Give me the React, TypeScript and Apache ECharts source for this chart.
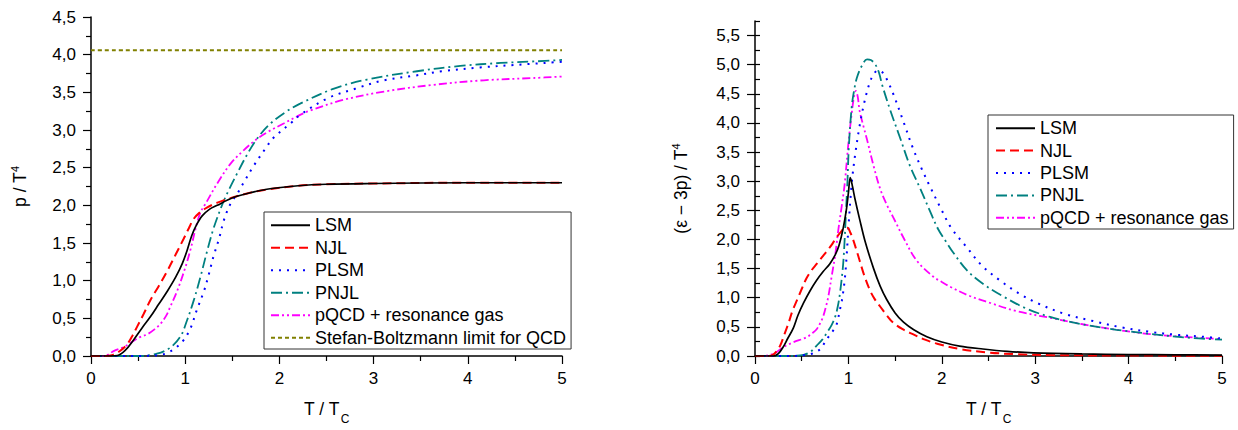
import React, { useEffect, useRef } from 'react';
import * as echarts from 'echarts';

const FONT = '"Liberation Sans", Arial, Helvetica, sans-serif';

// Series names (shared by both panels)
const names = ['LSM', 'NJL', 'PLSM', 'PNJL', 'pQCD + resonance gas', 'Stefan-Boltzmann limit for QCD'];

// Left panel: pressure p / T^4 against T / Tc, as [T/Tc, value]
const pressureLSM = [
  [0, 0], [0.2, 0], [0.28, 0.005], [0.36, 0.07], [0.45, 0.21], [0.54, 0.37], [0.63, 0.52], [0.72, 0.69],
  [0.81, 0.86], [0.9, 1.05], [0.97, 1.23], [1.02, 1.4], [1.07, 1.6], [1.12, 1.74], [1.18, 1.86], [1.26, 1.95],
  [1.34, 2.0], [1.45, 2.07], [1.55, 2.12], [1.7, 2.17], [1.9, 2.22], [2.2, 2.26], [2.5, 2.28], [3, 2.29],
  [4, 2.3], [5, 2.3],
];
const pressureNJL = [
  [0, 0], [0.15, 0], [0.22, 0.01], [0.3, 0.06], [0.38, 0.15], [0.44, 0.27], [0.49, 0.39], [0.56, 0.56],
  [0.63, 0.74], [0.72, 0.93], [0.81, 1.13], [0.9, 1.35], [0.985, 1.56], [1.04, 1.7], [1.09, 1.82],
  [1.15, 1.9], [1.23, 1.97], [1.35, 2.04], [1.52, 2.11], [1.7, 2.17], [1.87, 2.21], [2.2, 2.26],
  [2.5, 2.28], [3, 2.29], [4, 2.3], [5, 2.3],
];
const pressurePLSM = [
  [0, 0], [0.5, 0], [0.7, 0.01], [0.81, 0.04], [0.9, 0.11], [0.985, 0.215], [1.06, 0.38], [1.12, 0.6],
  [1.2, 0.865], [1.25, 1.08], [1.3, 1.32], [1.36, 1.56], [1.41, 1.8], [1.48, 2.02], [1.55, 2.15],
  [1.62, 2.3], [1.73, 2.53], [1.85, 2.75], [1.94, 2.9], [2.12, 3.09], [2.22, 3.2], [2.51, 3.42],
  [2.81, 3.55], [3.11, 3.66], [3.43, 3.72], [3.73, 3.78], [4.13, 3.83], [4.52, 3.865], [5, 3.905],
];
const pressurePNJL = [
  [0, 0], [0.5, 0], [0.7, 0.03], [0.84, 0.11], [0.95, 0.26], [1.02, 0.475], [1.09, 0.735], [1.16, 1.04],
  [1.23, 1.38], [1.3, 1.69], [1.39, 2.0], [1.45, 2.17], [1.55, 2.42], [1.66, 2.68], [1.76, 2.88],
  [1.9, 3.08], [2.08, 3.25], [2.22, 3.35], [2.58, 3.55], [2.93, 3.67], [3.46, 3.78], [3.92, 3.85],
  [4.35, 3.89], [4.7, 3.91], [5, 3.93],
];
const pressurePQCD = [
  [0, 0], [0.12, 0], [0.17, 0.01], [0.24, 0.065], [0.35, 0.12], [0.45, 0.2], [0.52, 0.25], [0.6, 0.29],
  [0.67, 0.35], [0.74, 0.43], [0.8, 0.54], [0.84, 0.65], [0.915, 0.865], [1.0, 1.17], [1.06, 1.43],
  [1.11, 1.69], [1.16, 1.9], [1.22, 2.03], [1.34, 2.29], [1.48, 2.55], [1.62, 2.73], [1.76, 2.88],
  [1.87, 2.97], [2.05, 3.09], [2.22, 3.2], [2.33, 3.26], [2.68, 3.4], [3.11, 3.51], [3.64, 3.6],
  [4.17, 3.66], [4.7, 3.69], [5, 3.71],
];
const pressureSB = [[0, 4.06], [5, 4.06]];

// Right panel: interaction measure (ε − 3p) / T^4 against T / Tc
const traceLSM = [
  [0, 0], [0.2, 0], [0.25, 0.04], [0.3, 0.15], [0.35, 0.3], [0.41, 0.48], [0.46, 0.7], [0.52, 0.91],
  [0.59, 1.12], [0.66, 1.3], [0.73, 1.45], [0.8, 1.58], [0.86, 1.74], [0.9, 1.9], [0.945, 2.2],
  [0.98, 2.53], [1.0, 2.8], [1.02, 3.06], [1.045, 2.9], [1.07, 2.7], [1.12, 2.35], [1.18, 1.96],
  [1.27, 1.5], [1.34, 1.2], [1.41, 0.97], [1.5, 0.74], [1.59, 0.58], [1.7, 0.45], [1.84, 0.33],
  [2.0, 0.24], [2.19, 0.17], [2.44, 0.12], [2.7, 0.08], [2.98, 0.055], [3.5, 0.035], [4, 0.025],
  [4.5, 0.02], [5, 0.015],
];
const traceNJL = [
  [0, 0], [0.15, 0], [0.18, 0.01], [0.22, 0.06], [0.27, 0.18], [0.31, 0.35], [0.36, 0.57], [0.4, 0.77],
  [0.45, 0.96], [0.5, 1.15], [0.55, 1.33], [0.6, 1.46], [0.66, 1.58], [0.72, 1.7], [0.77, 1.8],
  [0.83, 1.93], [0.87, 2.03], [0.92, 2.13], [0.96, 2.2], [0.99, 2.2], [1.02, 2.12], [1.05, 2.0],
  [1.08, 1.85], [1.12, 1.64], [1.17, 1.38], [1.23, 1.13], [1.28, 0.98], [1.34, 0.85], [1.41, 0.7],
  [1.48, 0.57], [1.58, 0.46], [1.69, 0.375], [1.82, 0.28], [1.95, 0.21], [2.19, 0.12], [2.5, 0.06],
  [2.8, 0.03], [3.2, 0.015], [4, 0.008], [5, 0.005],
];
const tracePLSM = [
  [0, 0], [0.4, 0], [0.59, 0.03], [0.65, 0.07], [0.7, 0.12], [0.77, 0.29], [0.83, 0.42], [0.875, 0.55],
  [0.91, 0.8], [0.93, 0.95], [0.96, 1.3], [0.98, 1.69], [1.0, 2.2], [1.035, 2.95], [1.07, 3.43],
  [1.12, 3.95], [1.17, 4.35], [1.22, 4.65], [1.27, 4.84], [1.32, 4.9], [1.37, 4.86], [1.42, 4.72],
  [1.48, 4.5], [1.59, 4.02], [1.69, 3.57], [1.78, 3.23], [1.87, 2.92], [2.0, 2.5], [2.1, 2.2],
  [2.27, 1.86], [2.43, 1.55], [2.62, 1.3], [2.82, 1.08], [3.02, 0.91], [3.32, 0.72], [3.62, 0.6],
  [3.93, 0.49], [4.23, 0.415], [4.51, 0.365], [4.8, 0.33], [5, 0.3],
];
const tracePNJL = [
  [0, 0], [0.35, 0], [0.52, 0.02], [0.6, 0.08], [0.66, 0.18], [0.72, 0.28], [0.77, 0.4], [0.82, 0.53],
  [0.86, 0.68], [0.89, 0.88], [0.91, 1.08], [0.93, 1.35], [0.945, 1.6], [0.96, 2.0], [0.975, 2.5],
  [0.99, 3.0], [1.005, 3.6], [1.035, 4.27], [1.06, 4.55], [1.09, 4.77], [1.14, 4.97], [1.2, 5.09],
  [1.24, 5.08], [1.29, 5.0], [1.33, 4.85], [1.36, 4.66], [1.45, 4.21], [1.55, 3.76], [1.66, 3.26],
  [1.77, 2.87], [1.87, 2.5], [1.96, 2.18], [2.05, 1.95], [2.12, 1.78], [2.27, 1.47], [2.44, 1.24],
  [2.66, 1.02], [2.91, 0.81], [3.16, 0.67], [3.34, 0.6], [3.55, 0.53], [3.87, 0.45], [4.23, 0.38],
  [4.59, 0.32], [5, 0.28],
];
const tracePQCD = [
  [0, 0], [0.05, 0], [0.2, 0.04], [0.3, 0.15], [0.41, 0.235], [0.55, 0.32], [0.62, 0.4], [0.66, 0.46],
  [0.7, 0.57], [0.73, 0.68], [0.76, 0.85], [0.785, 1.02], [0.82, 1.36], [0.86, 1.75], [0.89, 2.14],
  [0.93, 2.59], [0.96, 2.95], [1.0, 3.65], [1.035, 4.16], [1.06, 4.45], [1.08, 4.55], [1.1, 4.45],
  [1.12, 4.21], [1.16, 3.95], [1.2, 3.71], [1.27, 3.26], [1.34, 2.87], [1.41, 2.6], [1.48, 2.38],
  [1.59, 2.03], [1.73, 1.64], [1.91, 1.36], [2.0, 1.27], [2.1, 1.18], [2.3, 1.03], [2.52, 0.91],
  [2.8, 0.77], [3.16, 0.655], [3.51, 0.545], [3.87, 0.45], [4.23, 0.375], [4.59, 0.33], [5, 0.29],
];

const yMajorRight = [0, 0.5, 1, 1.5, 2, 2.5, 3, 3.5, 4, 4.5, 5, 5.5];

// Line styles per model
const styles: Record<string, { color: string; type: any; width: number }> = {
  LSM: { color: '#000000', type: 'solid', width: 1.7 },
  NJL: { color: '#ff0000', type: [9, 5], width: 2 },
  PLSM: { color: '#0000ff', type: [2, 6], width: 2 },
  PNJL: { color: '#008080', type: [11, 4, 2, 4], width: 1.8 },
  'pQCD + resonance gas': { color: '#ff00ff', type: [8, 3, 2, 3, 2, 3], width: 1.8 },
  'Stefan-Boltzmann limit for QCD': { color: '#808000', type: [4, 3], width: 2 },
};

const comma = (v: number) => v.toFixed(1).replace('.', ',');

function lineSeries(name: string, data: number[][], axisIndex: number) {
  const s = styles[name];
  return {
    type: 'line',
    name,
    data,
    xAxisIndex: axisIndex,
    yAxisIndex: axisIndex,
    symbol: 'none',
    smooth: 0.35,
    color: s.color,
    lineStyle: { color: s.color, type: s.type, width: s.width, cap: 'butt' },
    z: name === 'LSM' ? 5 : 3,
  };
}

const tickStyle = { color: '#000', width: 1.2 };

function xAxisFor(gridIndex: number) {
  return {
    type: 'value',
    gridIndex,
    min: 0,
    max: 5,
    interval: 1,
    name: '{m|T / T}{s|C}',
    nameLocation: 'middle',
    nameGap: 44,
    nameTextStyle: {
      fontFamily: FONT,
      color: '#000',
      rich: {
        m: { fontFamily: FONT, fontSize: 17.5, lineHeight: 20, verticalAlign: 'top', color: '#000' },
        s: { fontFamily: FONT, fontSize: 12, lineHeight: 14, verticalAlign: 'top', padding: [13, 0, 0, 1], color: '#000' },
      },
    },
    axisLine: { show: true, onZero: false, lineStyle: { color: '#000', width: 1.5 } },
    axisTick: { show: true, inside: false, length: 8, lineStyle: tickStyle },
    minorTick: { show: true, splitNumber: 2, length: 5, lineStyle: tickStyle },
    axisLabel: { fontFamily: FONT, fontSize: 17, color: '#000', margin: 14 },
    splitLine: { show: false },
    minorSplitLine: { show: false },
  };
}

const yNameRich = {
  m: { fontFamily: FONT, fontSize: 17.5, lineHeight: 20, verticalAlign: 'bottom', padding: [3, 0, 0, 0], color: '#000' },
  s: { fontFamily: FONT, fontSize: 11, lineHeight: 11, verticalAlign: 'top', color: '#000' },
};

function legendFor(data: string[], left: number, top: number, padLeft: number, rowH: number) {
  return {
    show: true,
    orient: 'vertical',
    left,
    top,
    data,
    itemWidth: 39,
    itemHeight: 14,
    itemGap: 0,
    padding: [2, 5, 0, padLeft],
    borderColor: '#333',
    borderWidth: 1,
    backgroundColor: '#fff',
    selectedMode: false,
    // hide the marker drawn in the middle of each legend line sample
    itemStyle: { opacity: 0, color: 'rgba(0,0,0,0)', borderWidth: 0 },
    textStyle: { fontFamily: FONT, fontSize: 18, color: '#000', lineHeight: rowH },
  };
}

export default function App() {
  const ref = useRef<HTMLDivElement>(null);

  useEffect(() => {
    if (!ref.current) return;
    const chart = echarts.init(ref.current, undefined, { renderer: 'svg' });
    chart.setOption({
      animation: false,
      backgroundColor: '#fff',
      textStyle: { fontFamily: FONT },
      grid: [
        { left: 91, top: 17, width: 471, height: 346, containLabel: false },
        { left: 755, top: 21, width: 467, height: 343, containLabel: false },
      ],
      xAxis: [xAxisFor(0), xAxisFor(1)],
      yAxis: [
        {
          type: 'value',
          gridIndex: 0,
          min: 0,
          max: 4.5,
          interval: 0.5,
          name: '{m|p / T}{s|4}',
          nameLocation: 'middle',
          nameGap: 62,
          nameTextStyle: { fontFamily: FONT, color: '#000', rich: yNameRich },
          axisLine: { show: true, onZero: false, lineStyle: { color: '#000', width: 1.5 } },
          axisTick: { show: true, inside: false, length: 8, lineStyle: tickStyle },
          minorTick: { show: true, splitNumber: 2, length: 5, lineStyle: tickStyle },
          axisLabel: { fontFamily: FONT, fontSize: 17, color: '#000', margin: 15, formatter: comma },
          splitLine: { show: false },
          minorSplitLine: { show: false },
        },
        {
          type: 'value',
          gridIndex: 1,
          min: 0,
          max: 5.75,
          interval: 0.5,
          name: '{m|(ε − 3p) / T}{s|4}',
          nameLocation: 'middle',
          nameGap: 65,
          nameTextStyle: { fontFamily: FONT, color: '#000', rich: yNameRich },
          axisLine: { show: true, onZero: false, lineStyle: { color: '#000', width: 1.5 } },
          axisTick: { show: true, inside: false, length: 8, lineStyle: tickStyle, customValues: yMajorRight },
          axisLabel: {
            fontFamily: FONT,
            fontSize: 17,
            color: '#000',
            margin: 15,
            customValues: yMajorRight,
            formatter: (v: number) => (v > 5.6 ? '' : comma(v)),
          },
          splitLine: { show: false },
        },
        {
          // quarter-step minor ticks along the right panel's vertical axis
          type: 'value',
          gridIndex: 1,
          min: 0,
          max: 5.75,
          interval: 0.25,
          axisLine: { show: false },
          axisTick: { show: true, inside: false, length: 5, lineStyle: tickStyle },
          axisLabel: { show: false },
          splitLine: { show: false },
        },
      ],
      legend: [
        legendFor(names, 264, 212, 6, 22.5),
        legendFor(names.slice(0, 5), 988, 115, 7, 22.4),
      ],
      series: [
        lineSeries(names[5], pressureSB, 0),
        lineSeries(names[4], pressurePQCD, 0),
        lineSeries(names[3], pressurePNJL, 0),
        lineSeries(names[2], pressurePLSM, 0),
        lineSeries(names[1], pressureNJL, 0),
        lineSeries(names[0], pressureLSM, 0),
        lineSeries(names[4], tracePQCD, 1),
        lineSeries(names[3], tracePNJL, 1),
        lineSeries(names[2], tracePLSM, 1),
        lineSeries(names[1], traceNJL, 1),
        lineSeries(names[0], traceLSM, 1),
      ],
    });
    return () => chart.dispose();
  }, []);

  return (
    <div
      ref={ref}
      style={{ position: 'fixed', left: 0, top: 0, width: 1238, height: 430, background: '#fff' }}
    />
  );
}
